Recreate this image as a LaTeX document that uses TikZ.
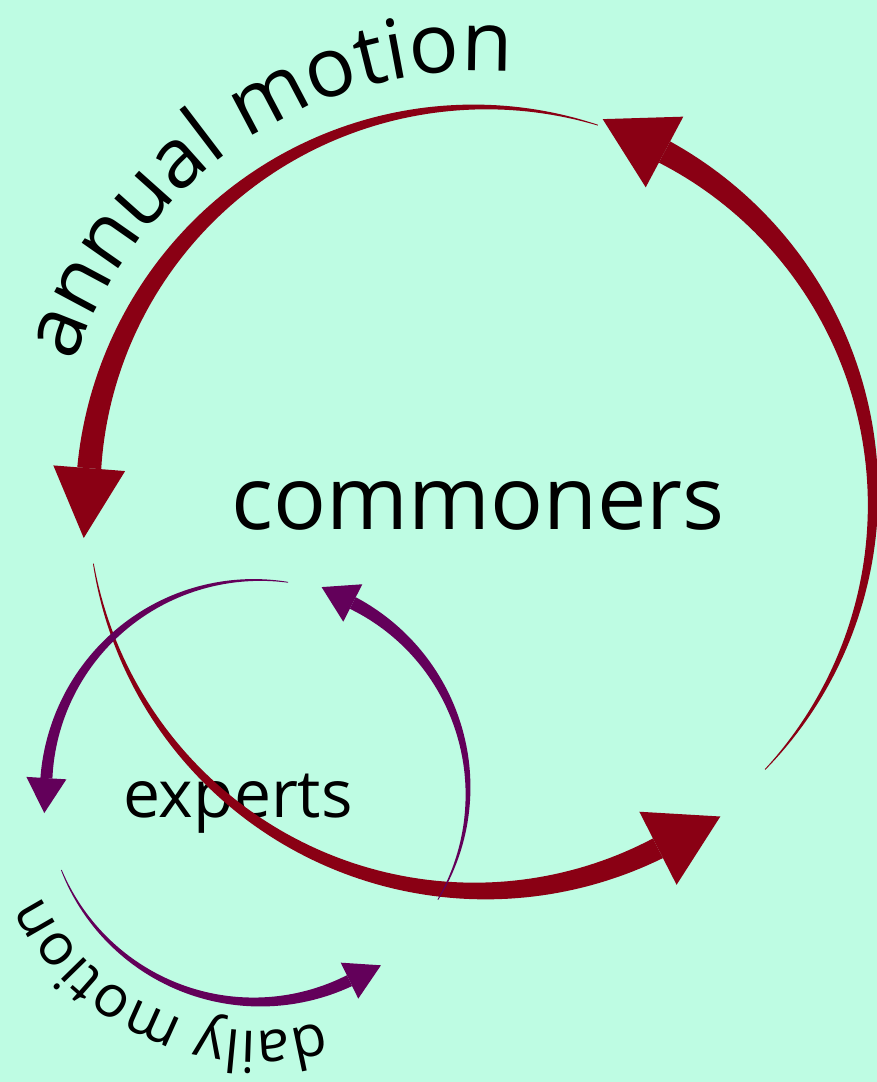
\documentclass[tikz,border=0pt]{standalone}
\usepackage{fontspec}
\setmainfont{Open Sans}
\usetikzlibrary{calc,decorations.text}

\definecolor{mint}{RGB}{190,252,227}
\definecolor{wine}{RGB}{138,0,20}
\definecolor{plum}{RGB}{99,0,90}

% tapered arc: colour, centre x, centre y, radius, start angle, end angle, end width, head length, head width
\newcommand{\taperarc}[9]{%
	\fill[#1, declare function={wd(\t)=0.8+(#7-0.8)*(\t-(#5))/((#6)-(#5));}]
		plot[domain=#5:#6, samples=90, variable=\t] ({#2+(#4+wd(\t)/2)*cos(\t)}, {#3+(#4+wd(\t)/2)*sin(\t)})
		-- plot[domain=#6:#5, samples=90, variable=\t] ({#2+(#4-wd(\t)/2)*cos(\t)}, {#3+(#4-wd(\t)/2)*sin(\t)})
		-- cycle;
	\fill[#1] ($(#2,#3)+(#6:{#4+#9/2})$) -- ($(#2,#3)+(#6:{#4-#9/2})$) -- ($(#2,#3)+(#6:#4)+(#6+90:#8)$) -- cycle;
}

\begin{document}
\begin{tikzpicture}[x=1pt,y=1pt]

	% background
	\useasboundingbox (0,0) rectangle (877,1082);
	\fill[mint] (0,0) rectangle (877,1082);

	% labels
	\node[anchor=base, inner sep=0pt] (commoners) at (478,552) {\fontsize{88}{100}\selectfont commoners};
	\node[anchor=base, inner sep=0pt] (experts) at (238,264) {\fontsize{66}{72}\selectfont experts};

	% annual motion
	\taperarc{wine}{480}{583}{393}{-43.5}{62}{24}{70}{80}
	\taperarc{wine}{480}{583}{392}{72.5}{175.5}{24}{70}{72}
	\taperarc{wine}{480}{583}{392}{189.5}{297}{22}{70}{82}
	\path[decorate, decoration={text along path, text align=left,
		text={|\fontsize{83}{95}\selectfont|annual motion}}]
		($(480,583)+(161.5:428)$) arc[start angle=161.5, end angle=50, radius=428];

	% daily motion
	\taperarc{plum}{257}{291}{211}{-31}{63}{13}{35}{42}
	\taperarc{plum}{257}{291}{211}{81.5}{176.5}{12}{35}{40}
	\taperarc{plum}{257}{291}{211}{202}{296}{12}{35}{40}
	\path[decorate, decoration={text along path, text align=left,
		text={|\fontsize{58}{68}\selectfont|daily motion}}]
		($(257,291)+(-74:240)$) arc[start angle=-74, end angle=-220, radius=240];

\end{tikzpicture}
\end{document}
